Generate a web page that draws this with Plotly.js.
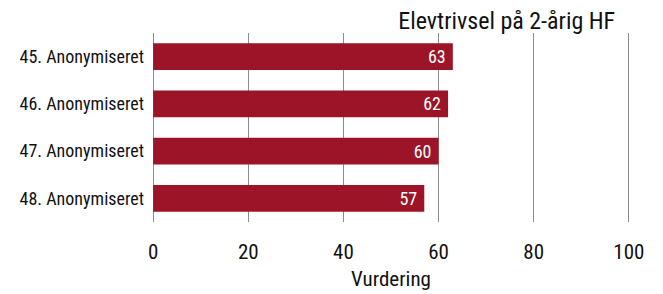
<!DOCTYPE html>
<html>
<head>
<meta charset="utf-8">
<script src="https://cdn.plot.ly/plotly-3.0.1.min.js"></script>
<style>html,body{margin:0;padding:0;background:#fff;}#chart{width:663px;height:294px;}</style>
</head>
<body>
<div id="chart"></div>
<script>
const categories = ["45. Anonymiseret", "46. Anonymiseret", "47. Anonymiseret", "48. Anonymiseret"];
const values = [63, 62, 60, 57];
const xTicks = [0, 20, 40, 60, 80, 100];

const FONT = "'Liberation Sans Narrow', 'Roboto Condensed', 'Liberation Sans', sans-serif";

const trace = {
  type: "bar",
  orientation: "h",
  y: categories,
  x: values,
  text: values.map(v => String(v) + "\u00a0"),
  textposition: "inside",
  insidetextanchor: "end",
  constraintext: "none",
  textfont: {color: "#ffffff", size: 18, family: FONT},
  marker: {color: "#9b1427"},
  hoverinfo: "none"
};

const layout = {
  width: 663, height: 294,
  margin: {l: 152, r: 33, t: 33, b: 72},
  paper_bgcolor: "#ffffff",
  plot_bgcolor: "#ffffff",
  font: {family: FONT, color: "#111111"},
  showlegend: false,
  bargap: 0.43,
  title: {
    text: "Elevtrivsel på 2-årig HF",
    font: {size: 24, family: FONT, color: "#111111"},
    xref: "paper", x: 0.969, xanchor: "right",
    yref: "container", y: 0.93, yanchor: "middle"
  },
  xaxis: {
    range: [-0.25, 100.25],
    tickvals: xTicks,
    ticktext: xTicks.map(String),
    showgrid: true,
    gridcolor: "#8c8c8c",
    gridwidth: 1,
    zeroline: false,
    showline: false,
    ticks: "",
    ticklabelstandoff: 15,
    tickfont: {size: 21, family: FONT, color: "#111111"},
    title: {text: "Vurdering", font: {size: 21, family: FONT, color: "#111111"}, standoff: 8},
    fixedrange: true
  },
  yaxis: {
    categoryorder: "array",
    categoryarray: categories,
    autorange: "reversed",
    showgrid: false,
    zeroline: false,
    showline: false,
    ticks: "",
    ticklabelstandoff: 7,
    tickfont: {size: 18, family: FONT, color: "#111111"},
    fixedrange: true
  }
};

Plotly.newPlot("chart", [trace], layout, {displayModeBar: false, staticPlot: true});
</script>
</body>
</html>
